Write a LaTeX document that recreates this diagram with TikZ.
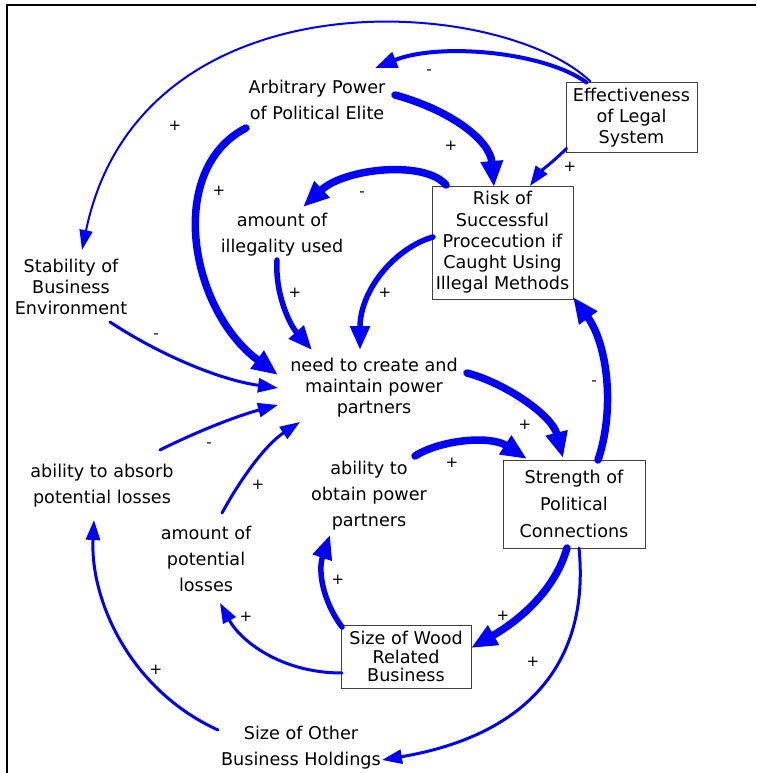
\documentclass[tikz,border=0pt]{standalone}
\usepackage{fontspec}
\setmainfont{DejaVu Sans}
\usetikzlibrary{arrows.meta}
\definecolor{lnk}{RGB}{0,0,255}
\begin{document}
\begin{tikzpicture}[x=1pt,y=-1pt,
  lbl/.style={inner sep=0pt, align=center, font=\fontsize{17.6}{26}\selectfont},
  lbltight/.style={inner sep=0pt, align=center, font=\fontsize{17.6}{21}\selectfont},
  boxnode/.style={draw=black!75, line width=1pt, inner sep=0pt, align=center, font=\fontsize{17.6}{21.3}\selectfont},
  sgn/.style={inner sep=0pt, font=\fontsize{15}{15}\selectfont},
  lkxl/.style={draw=lnk, line width=7.5pt, line cap=round, -{Triangle[length=26pt,width=21pt]}},
  lkl/.style={draw=lnk, line width=5.5pt, line cap=round, -{Triangle[length=24pt,width=19pt]}},
  lkm/.style={draw=lnk, line width=4pt, line cap=round, -{Triangle[length=22pt,width=16pt]}},
  lks/.style={draw=lnk, line width=3pt, line cap=round, -{Triangle[length=20pt,width=14pt]}},
  lkt/.style={draw=lnk, line width=2pt, line cap=round, -{Triangle[length=20pt,width=13pt]}},
  frame/.style={draw=black, line width=2pt}
]
\fill[white] (0,0) rectangle (756,773);
\useasboundingbox (0,0) rectangle (756,773);
\draw[frame] (7,773) -- (7,5) -- (756,5);

\node[lbl] (ap) at (317,100) {Arbitrary Power\\of Political Elite};
\node[boxnode, minimum width=131pt, minimum height=69pt] (eff) at (631.5,117.5) {Effectiveness\\of Legal\\System};
\node[boxnode, minimum width=141pt, minimum height=113pt] (risk) at (502.5,242.5) {Risk of\\Successful\\Procecution if\\Caught Using\\Illegal Methods};
\node[lbl] (ill) at (282,235) {amount of\\illegality used};
\node[lbltight] (stab) at (71,287) {Stability of\\Business\\Environment};
\node[lbltight] (need) at (374,388) {need to create and\\maintain power\\partners};
\node[lbl] (absorb) at (102,486) {ability to absorb\\potential losses};
\node[lbl] (obtain) at (369,496) {ability to\\obtain power\\partners};
\node[lbl] (potl) at (206,559) {amount of\\potential\\losses};
\node[boxnode, minimum width=142pt, minimum height=88pt, font=\fontsize{17.6}{27}\selectfont] (str) at (574,504) {Strength of\\Political\\Connections};
\node[boxnode, minimum width=130pt, minimum height=63pt, font=\fontsize{17.6}{18.5}\selectfont] (wood) at (406,656.5) {Size of Wood\\Related\\Business};
\node[lbl] (other) at (301,748) {Size of Other\\Business Holdings};

\draw[lkm] ([shift={(-45,-35)}]eff.center) .. controls (545,52) and (440,42) .. ([shift={(58,-32)}]ap.center);
\draw[lkt] ([shift={(-41,-36)}]eff.center) .. controls (500,-5) and (140,-30) .. ([shift={(11,-37)}]stab.center);
\draw[lks] ([shift={(-65,31)}]eff.center) .. controls (555,160) and (540,172) .. ([shift={(27.5,-56.5)}]risk.center);
\draw[lkxl] ([shift={(78,-5)}]ap.center) .. controls (450,110) and (490,140) .. ([shift={(-8.5,-55.5)}]risk.center);
\draw[lkxl] ([shift={(-71,28)}]ap.center) .. controls (165,170) and (190,310) .. ([shift={(-96,-13)}]need.center);
\draw[lkxl] ([shift={(-56.5,-57.5)}]risk.center) .. controls (425,160) and (345,168) .. ([shift={(21,-28)}]ill.center);
\draw[lkl] ([shift={(-69.5,-5.5)}]risk.center) .. controls (395,248) and (360,290) .. ([shift={(-14,-38)}]need.center);
\draw[lkl] ([shift={(-5,25)}]ill.center) .. controls (275,295) and (290,325) .. ([shift={(-62,-38)}]need.center);
\draw[lks] ([shift={(39,35)}]stab.center) .. controls (160,355) and (220,380) .. ([shift={(-96,0)}]need.center);
\draw[lks] ([shift={(58,-36)}]absorb.center) .. controls (200,430) and (240,415) .. ([shift={(-96,17)}]need.center);
\draw[lks] ([shift={(16,-46)}]potl.center) .. controls (240,480) and (265,445) .. ([shift={(-74,34)}]need.center);
\draw[lkxl] ([shift={(93,-15)}]need.center) .. controls (505,383) and (552,415) .. ([shift={(-11,-46)}]str.center);
\draw[lkxl] ([shift={(46,-40)}]obtain.center) .. controls (440,440) and (490,435) .. ([shift={(-47,-45)}]str.center);
\draw[lkxl] ([shift={(24,-44)}]str.center) .. controls (615,410) and (608,345) .. ([shift={(70.5,54.5)}]risk.center);
\draw[lkxl] ([shift={(-7,44)}]str.center) .. controls (555,590) and (520,620) .. ([shift={(65,-8.5)}]wood.center);
\draw[lks] ([shift={(5,44)}]str.center) .. controls (590,660) and (530,735) .. ([shift={(81,12)}]other.center);
\draw[lkl] ([shift={(-64,-29.5)}]wood.center) .. controls (322,600) and (318,570) .. ([shift={(-39,39)}]obtain.center);
\draw[lks] ([shift={(-64,16.5)}]wood.center) .. controls (280,673) and (240,640) .. ([shift={(14,44)}]potl.center);
\draw[lks] ([shift={(-83,-18)}]other.center) .. controls (130,690) and (90,600) .. ([shift={(-8,34)}]absorb.center);

\node[sgn] (sA) at (429,72) {-};
\node[sgn] (sB) at (175,126) {+};
\node[sgn] (sC) at (570,167) {+};
\node[sgn] (sD) at (451,146) {+};
\node[sgn] (sE) at (219,191) {+};
\node[sgn] (sF) at (362,194) {-};
\node[sgn] (sG) at (385,293) {+};
\node[sgn] (sH) at (295,293) {+};
\node[sgn] (sI) at (156,336) {-};
\node[sgn] (sJ) at (209,445) {-};
\node[sgn] (sK) at (258,485) {+};
\node[sgn] (sL) at (525,425) {+};
\node[sgn] (sM) at (452,463) {+};
\node[sgn] (sN) at (594,383) {-};
\node[sgn] (sO) at (503,616) {+};
\node[sgn] (sP) at (533,662) {+};
\node[sgn] (sQ) at (338,580) {+};
\node[sgn] (sR) at (246,617) {+};
\node[sgn] (sS) at (156,670) {+};
\end{tikzpicture}
\end{document}
